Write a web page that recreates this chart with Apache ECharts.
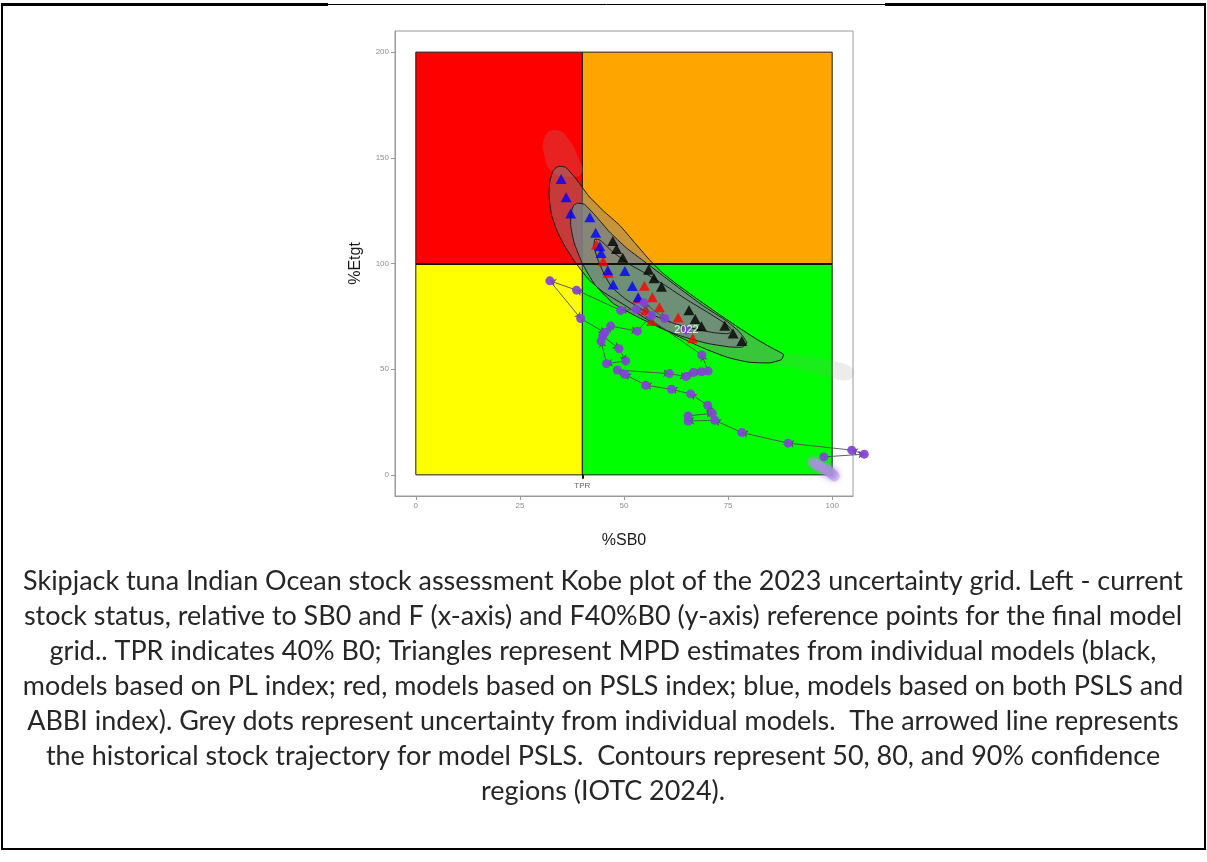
<!DOCTYPE html>
<html>
<head>
<meta charset="utf-8">
<title>Skipjack tuna Kobe plot</title>
<script src="https://cdn.jsdelivr.net/npm/echarts@6/dist/echarts.min.js"></script>
<style>
  html, body { margin: 0; padding: 0; background: #ffffff; }
  #chart { width: 1207px; height: 862px; }
</style>
</head>
<body>
<div id="chart"></div>
<script>
// ---- Axis ticks ----
const xTicks = [0, 25, 50, 75, 100];
const yTicks = [0, 50, 100, 150, 200];

// ---- Kobe quadrants: [x0, x1, y0, y1] and fill ----
const quadX0 = [0, 40, 0, 40];
const quadX1 = [40, 100, 40, 100];
const quadY0 = [0, 0, 100, 100];
const quadY1 = [100, 100, 200, 200];
const quadColors = ['#FFFF00', '#00FF00', '#FF0000', '#FFA500'];

// ---- MPD estimates from individual models ----
const blackX = [47.3, 48.2, 49.7, 55.9, 57.2, 59.0, 65.6, 67.1, 68.6, 74.2, 76.2, 78.3];
const blackY = [110.6, 106.9, 102.7, 97.0, 93.0, 89.0, 77.9, 73.7, 70.3, 70.6, 66.9, 63.3];

const redX = [43.4, 45.0, 46.2, 54.9, 56.8, 58.5, 53.4, 55.2, 63.0, 56.6, 66.5];
const redY = [109.0, 101.1, 95.6, 89.5, 84.0, 79.3, 83.5, 78.0, 74.5, 72.8, 64.6];

const blueX = [34.9, 36.1, 37.2, 41.8, 43.2, 44.2, 44.5, 46.1, 50.2, 47.4, 52.0, 53.4];
const blueY = [140.0, 131.3, 123.6, 121.9, 114.5, 108.2, 105.0, 96.8, 96.4, 90.1, 89.3, 84.0];

// ---- Confidence contours (50, 80, 90 %) ----
const c90X = [34.3, 36.0, 38.5, 41.5, 45.0, 49.0, 52.5, 56.0, 59.0, 62.5, 67.0, 72.3, 77.0, 82.0, 86.0, 88.3, 87.8, 85.0, 80.0, 75.0, 69.0, 62.0, 56.0, 50.0, 45.0, 41.5, 38.5, 36.0, 34.0, 32.6, 32.0, 32.2, 33.0];
const c90Y = [146.0, 145.5, 140.0, 132.0, 125.0, 118.0, 110.0, 102.0, 96.0, 90.5, 84.0, 76.7, 70.4, 64.0, 59.5, 57.0, 54.5, 53.0, 53.3, 55.5, 60.0, 66.5, 73.0, 80.5, 86.5, 92.5, 100.0, 107.5, 115.0, 123.0, 132.0, 139.0, 144.0];

const c80X = [38.8, 40.5, 43.2, 46.5, 50.5, 54.5, 58.5, 63.5, 69.0, 74.5, 77.8, 79.5, 78.5, 75.5, 70.0, 64.0, 59.5, 53.5, 47.5, 43.0, 40.0, 38.0, 37.2, 37.3, 37.9];
const c80Y = [128.5, 128.0, 122.5, 115.0, 107.5, 101.5, 95.5, 88.0, 80.0, 73.0, 67.5, 62.5, 60.5, 60.5, 62.2, 65.5, 68.8, 74.5, 81.0, 90.0, 100.0, 110.0, 118.0, 124.0, 127.5];

const c50X = [43.0, 44.3, 47.0, 51.0, 55.0, 60.0, 65.0, 70.0, 74.0, 76.0, 75.0, 71.5, 66.0, 61.0, 55.5, 50.5, 47.0, 45.0, 43.5, 42.8];
const c50Y = [111.5, 111.0, 106.0, 100.0, 95.5, 89.5, 83.0, 77.0, 72.0, 68.5, 66.8, 67.3, 69.5, 72.3, 77.0, 83.0, 89.0, 96.0, 103.0, 108.0];

// ---- Sparse uncertainty fringes outside the contours ----
const fringeTopX = [31, 34, 37, 39, 40, 37, 33, 31];
const fringeTopY = [160, 163, 158, 150, 143, 141, 143, 150];
const fringeTailX = [86, 92, 98, 104, 105, 100, 94, 89];
const fringeTailY = [53, 50, 47, 45, 50, 54, 56, 57];

// ---- Historical trajectory, model PSLS (first year to 2022) ----
const trajX = [100.5, 100.0, 99.5, 99.0, 98.4, 97.8, 97.2, 96.6, 96.0, 95.4, 98.0, 107.7, 104.7, 89.4, 78.3, 71.8, 65.4, 65.4, 71.2, 70.1, 66.0, 61.4, 55.2, 50.2, 48.4, 60.9, 64.9, 66.6, 68.6, 70.2, 68.7, 52.9, 49.2, 38.6, 32.2, 39.6, 45.4, 44.9, 48.8, 50.4, 45.8, 44.5, 46.8, 53.2, 56.6, 54.8, 59.8, 65.0];
const trajY = [-0.5, 0.5, 1.2, 2.0, 2.6, 3.2, 3.8, 4.5, 5.2, 6.0, 8.5, 9.8, 11.7, 15.0, 20.0, 25.8, 25.5, 27.9, 29.1, 32.9, 38.3, 40.5, 42.4, 47.6, 49.6, 47.9, 46.5, 48.4, 48.8, 49.1, 56.7, 78.3, 77.8, 87.4, 91.8, 74.0, 67.3, 65.7, 59.7, 53.9, 52.6, 63.3, 70.4, 68.0, 75.4, 81.4, 74.0, 68.5];
const lastYear = '2022';

// ---- Caption ----
const captionLines = [
  'Skipjack tuna Indian Ocean stock assessment Kobe plot of the 2023 uncertainty grid. Left - current',
  'stock status, relative to SB0 and F (x-axis) and F40%B0 (y-axis) reference points for the final model',
  'grid.. TPR indicates 40% B0; Triangles represent MPD estimates from individual models (black,',
  'models based on PL index; red, models based on PSLS index; blue, models based on both PSLS and',
  'ABBI index). Grey dots represent uncertainty from individual models.  The arrowed line represents',
  'the historical stock trajectory for model PSLS.  Contours represent 50, 80, and 90% confidence',
  'regions (IOTC 2024).'
];

// ---------------------------------------------------------------
const zip = (xs, ys) => xs.map((x, i) => [x, ys[i]]);

function polygonSeries(xs, ys, fill, stroke, z, smooth) {
  const pts = zip(xs, ys);
  return {
    type: 'custom',
    z: z,
    silent: true,
    data: [0],
    renderItem: function (params, api) {
      return {
        type: 'polygon',
        shape: { points: pts.map(p => api.coord(p)), smooth: smooth },
        style: { fill: fill, stroke: stroke, lineWidth: stroke === 'none' ? 0 : 1 }
      };
    }
  };
}

const quadSeries = {
  type: 'custom',
  z: 1,
  silent: true,
  data: quadColors.map((c, i) => i),
  renderItem: function (params, api) {
    const i = params.dataIndex;
    const a = api.coord([quadX0[i], quadY1[i]]);
    const b = api.coord([quadX1[i], quadY0[i]]);
    return {
      type: 'rect',
      shape: { x: a[0], y: a[1], width: b[0] - a[0], height: b[1] - a[1] },
      style: { fill: quadColors[i], stroke: '#1a1a1a', lineWidth: 1 }
    };
  }
};

const nEarly = 10; // overlapping early years near unexploited state
const trajPts = zip(trajX, trajY);
const arrowSegs = [];
for (let i = nEarly; i < trajPts.length - 1; i++) {
  arrowSegs.push({ coords: [trajPts[i], trajPts[i + 1]] });
}

const trajData = trajPts.map((p, i) => {
  const d = { value: p };
  if (i < nEarly) {
    d.symbolSize = 11;
    d.itemStyle = { color: '#b291e3', opacity: 0.45, shadowBlur: 6, shadowColor: 'rgba(170,140,225,0.8)' };
  }
  if (i === trajPts.length - 1) {
    d.label = {
      show: true, formatter: lastYear, position: 'inside',
      color: '#ffffff', fontSize: 11, fontFamily: 'Liberation Sans'
    };
  }
  return d;
});

// fit caption font to the text block width
const ctx = document.createElement('canvas').getContext('2d');
ctx.font = '20px Lato';
const capSize = 20 * 1160 / ctx.measureText(captionLines[0]).width;

const graphics = [
  // outer frame
  { type: 'line', shape: { x1: 2, y1: 4, x2: 2, y2: 849 }, style: { stroke: '#000', lineWidth: 2 } },
  { type: 'line', shape: { x1: 1205, y1: 4, x2: 1205, y2: 849 }, style: { stroke: '#000', lineWidth: 2 } },
  { type: 'line', shape: { x1: 1, y1: 849, x2: 1206, y2: 849 }, style: { stroke: '#000', lineWidth: 2 } },
  { type: 'line', shape: { x1: 1, y1: 4.5, x2: 328, y2: 4.5 }, style: { stroke: '#000', lineWidth: 3 } },
  { type: 'line', shape: { x1: 328, y1: 4.5, x2: 885, y2: 4.5 }, style: { stroke: '#000', lineWidth: 1 } },
  { type: 'line', shape: { x1: 885, y1: 4.5, x2: 1206, y2: 4.5 }, style: { stroke: '#000', lineWidth: 3 } }
];
captionLines.forEach((t, i) => {
  graphics.push({
    type: 'text',
    style: {
      text: t, x: 603, y: 581 + 35 * i,
      textAlign: 'center', textVerticalAlign: 'middle',
      font: capSize.toFixed(2) + 'px Lato', fill: '#262626'
    }
  });
});

const chart = echarts.init(document.getElementById('chart'), null, { renderer: 'canvas' });
chart.setOption({
  animation: false,
  backgroundColor: '#ffffff',
  grid: {
    left: 395, top: 31, width: 458, height: 465,
    show: true, borderColor: '#9a9a9a', borderWidth: 1, backgroundColor: '#ffffff'
  },
  xAxis: {
    type: 'value', min: -5, max: 105,
    name: '%SB0', nameLocation: 'middle', nameGap: 37,
    nameTextStyle: { fontSize: 16, color: '#1a1a1a', fontFamily: 'Liberation Sans' },
    axisLine: { show: true, onZero: false, lineStyle: { color: '#9a9a9a', width: 1 } },
    axisTick: { show: true, customValues: xTicks, length: 4, lineStyle: { color: '#9a9a9a' } },
    axisLabel: { customValues: xTicks, fontSize: 8, color: '#8c8c8c', margin: 6, fontFamily: 'Liberation Sans' },
    splitLine: { show: false }
  },
  yAxis: {
    type: 'value', min: -10, max: 210,
    name: '%Etgt', nameLocation: 'middle', nameGap: 31, nameRotate: 90,
    nameTextStyle: { fontSize: 16, color: '#1a1a1a', fontFamily: 'Liberation Sans' },
    axisLine: { show: true, onZero: false, lineStyle: { color: '#9a9a9a', width: 1 } },
    axisTick: { show: true, customValues: yTicks, length: 4, lineStyle: { color: '#9a9a9a' } },
    axisLabel: { customValues: yTicks, fontSize: 8, color: '#8c8c8c', margin: 6, fontFamily: 'Liberation Sans' },
    splitLine: { show: false }
  },
  graphic: graphics,
  series: [
    quadSeries,
    {
      // target exploitation line and TPR tick
      type: 'line', data: [], z: 2, silent: true,
      markLine: {
        silent: true, symbol: 'none', label: { show: false },
        lineStyle: { color: '#111', type: 'solid', width: 2 },
        data: [
          [{ coord: [0, 100] }, { coord: [100, 100] }],
          [{ coord: [40, 0] }, { coord: [40, -1.8] }]
        ]
      }
    },
    {
      type: 'scatter', z: 2, silent: true, symbolSize: 0,
      data: [[40, -5]],
      label: { show: true, formatter: 'TPR', position: 'inside', fontSize: 8, color: '#333', fontFamily: 'Liberation Sans' }
    },
    polygonSeries(fringeTopX, fringeTopY, 'rgba(150,150,150,0.22)', 'none', 3, 0.5),
    polygonSeries(fringeTailX, fringeTailY, 'rgba(150,150,150,0.18)', 'none', 3, 0.5),
    polygonSeries(c90X, c90Y, 'rgba(128,128,128,0.45)', 'none', 3, 0.15),
    polygonSeries(c80X, c80Y, 'rgba(122,132,132,0.82)', 'none', 4, 0.15),
    polygonSeries(c90X, c90Y, 'none', '#1a1a1a', 5, 0.15),
    polygonSeries(c80X, c80Y, 'none', '#1a1a1a', 5, 0.15),
    polygonSeries(c50X, c50Y, 'none', '#1a1a1a', 5, 0.15),
    {
      type: 'scatter', z: 6, symbol: 'triangle', symbolSize: [11, 10],
      itemStyle: { color: '#000000' }, data: zip(blackX, blackY)
    },
    {
      type: 'scatter', z: 6, symbol: 'triangle', symbolSize: [11, 10],
      itemStyle: { color: '#FF0000' }, data: zip(redX, redY)
    },
    {
      type: 'scatter', z: 6, symbol: 'triangle', symbolSize: [11, 10],
      itemStyle: { color: '#0000FF' }, data: zip(blueX, blueY)
    },
    {
      type: 'lines', coordinateSystem: 'cartesian2d', z: 7, silent: true, clip: false,
      symbol: ['none', 'arrow'], symbolSize: 6,
      lineStyle: { color: '#4d4d4d', width: 1, opacity: 0.9 },
      data: arrowSegs
    },
    {
      type: 'scatter', z: 8, clip: false, symbol: 'circle', symbolSize: 9,
      itemStyle: { color: '#8242d8', opacity: 0.92 },
      data: trajData
    }
  ]
});
</script>
</body>
</html>
